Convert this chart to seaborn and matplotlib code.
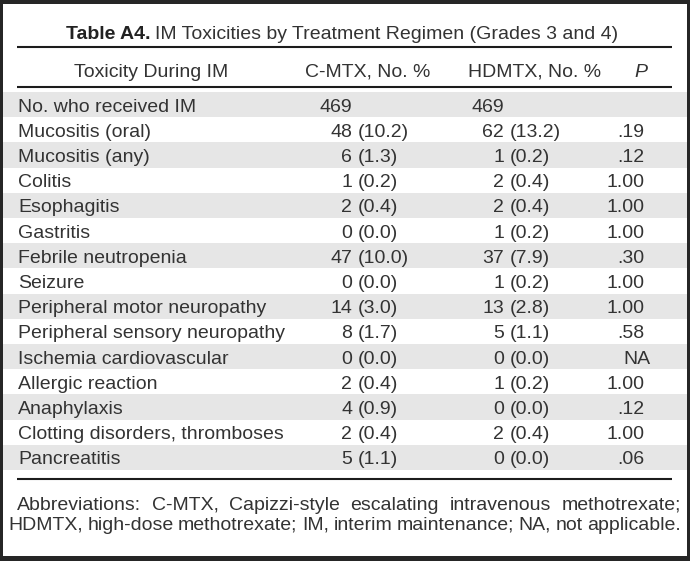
import matplotlib
matplotlib.use("Agg")
import matplotlib.pyplot as plt
import matplotlib.transforms as mtransforms
from matplotlib.colors import ListedColormap
from matplotlib.patches import Rectangle
import numpy as np
import pandas as pd
import seaborn as sns

# ---------------- data ----------------
title_bold = "Table A4."
title_rest = "IM Toxicities by Treatment Regimen (Grades 3 and 4)"
col_headers = ["Toxicity During IM", "C-MTX, No. %", "HDMTX, No. %", "P"]
toxicities = [
    "No. who received IM", "Mucositis (oral)", "Mucositis (any)", "Colitis",
    "Esophagitis", "Gastritis", "Febrile neutropenia", "Seizure",
    "Peripheral motor neuropathy", "Peripheral sensory neuropathy",
    "Ischemia cardiovascular", "Allergic reaction", "Anaphylaxis",
    "Clotting disorders, thromboses", "Pancreatitis",
]
cmtx_n = [469, 48, 6, 1, 2, 0, 47, 0, 14, 8, 0, 2, 4, 2, 5]
cmtx_pct = [None, "10.2", "1.3", "0.2", "0.4", "0.0", "10.0", "0.0", "3.0",
            "1.7", "0.0", "0.4", "0.9", "0.4", "1.1"]
hdmtx_n = [469, 62, 1, 2, 2, 1, 37, 1, 13, 5, 0, 1, 0, 2, 0]
hdmtx_pct = [None, "13.2", "0.2", "0.4", "0.4", "0.2", "7.9", "0.2", "2.8",
             "1.1", "0.0", "0.2", "0.0", "0.4", "0.0"]
p_values = ["", ".19", ".12", "1.00", "1.00", "1.00", ".30", "1.00", "1.00",
            ".58", "NA", "1.00", ".12", "1.00", ".06"]
footnote = [
    "Abbreviations: C-MTX, Capizzi-style escalating intravenous methotrexate;",
    "HDMTX, high-dose methotrexate; IM, interim maintenance; NA, not applicable.",
]

# ---------------- style ----------------
sns.set_theme(style="white")
plt.rcParams["font.family"] = ["Liberation Sans", "DejaVu Sans"]
FS = 14.0
TXT = "#333333"
RULE = "#1c1c1c"
BAND = "#e6e6e6"
W, H = 690, 561
HALF_CAP = 0.716 * FS * 100 / 72 / 2

fig = plt.figure(figsize=(W / 100, H / 100), dpi=100)
fig.patch.set_facecolor("#262626")

# background axes in pixel units (y down)
bg = fig.add_axes([0, 0, 1, 1])
bg.set_xlim(0, W)
bg.set_ylim(H, 0)
bg.axis("off")
bg.set_zorder(0)
bg.add_patch(Rectangle((3, 4), 684, 552, facecolor="white", edgecolor="none"))

# banded rows via seaborn heatmap
top_px, bot_px = 92, 470
hax = fig.add_axes([3 / W, 1 - bot_px / H, 684 / W, (bot_px - top_px) / H])
hax.set_zorder(1)
df = pd.DataFrame({"band": [(i + 1) % 2 for i in range(len(toxicities))]},
                  index=toxicities)
sns.heatmap(df, ax=hax, cmap=ListedColormap(["white", BAND]), cbar=False,
            xticklabels=False, yticklabels=False, vmin=0, vmax=1)
hax.set_xlabel("")
hax.set_ylabel("")
hax.axis("off")

renderer = fig.canvas.get_renderer()

# rules
for y in (47, 87, 479):
    bg.plot([17, 672], [y, y], color=RULE, lw=1.5, solid_capstyle="butt")

# title
t1 = bg.text(0, 32 + HALF_CAP, title_bold, fontsize=FS, fontweight="bold",
             color="#222222", va="baseline", ha="left")
t2 = bg.text(0, 32 + HALF_CAP, title_rest, fontsize=FS, color=TXT,
             va="baseline", ha="left")
sp = bg.text(0, 0, "a a", fontsize=FS)
spa = bg.text(0, 0, "aa", fontsize=FS)
space_w = sp.get_window_extent(renderer).width - spa.get_window_extent(renderer).width
sp.remove(); spa.remove()
w1 = t1.get_window_extent(renderer).width
w2 = t2.get_window_extent(renderer).width
x0 = 342 - (w1 + space_w + w2) / 2
t1.set_x(x0)
t2.set_x(x0 + w1 + space_w)

# header
hy = 70 + HALF_CAP
bg.text(151, hy, col_headers[0], fontsize=FS, color=TXT, ha="center", va="baseline")
bg.text(305, hy, col_headers[1], fontsize=FS, color=TXT, ha="left", va="baseline")
bg.text(468, hy, col_headers[2], fontsize=FS, color=TXT, ha="left", va="baseline")
bg.text(641, hy, col_headers[3], fontsize=FS, color=TXT, ha="center", va="baseline",
        style="italic")

# rows (x in pixels, y in heatmap row coordinates)
blend = mtransforms.blended_transform_factory(bg.transData, hax.transData)
tr = mtransforms.offset_copy(blend, fig=fig, y=-HALF_CAP, units="dots")
for i, name in enumerate(toxicities):
    y = i + 0.5
    kw = dict(transform=tr, fontsize=FS, color=TXT, va="baseline", clip_on=False)
    hax.text(18, y, name, ha="left", **kw)
    hax.text(352, y, str(cmtx_n[i]), ha="right", **kw)
    if cmtx_pct[i] is not None:
        hax.text(358, y, f"({cmtx_pct[i]})", ha="left", **kw)
    hax.text(504, y, str(hdmtx_n[i]), ha="right", **kw)
    if hdmtx_pct[i] is not None:
        hax.text(510, y, f"({hdmtx_pct[i]})", ha="left", **kw)
    if p_values[i] == "NA":
        hax.text(637, y, p_values[i], ha="center", **kw)
    elif p_values[i]:
        hax.text(644, y, p_values[i], ha="right", **kw)


# footnote (justified)
def justified(line, xa, xb, y):
    words = line.split(" ")
    arts = [bg.text(0, y, w, fontsize=FS, color=TXT, va="baseline", ha="left")
            for w in words]
    widths = [a.get_window_extent(renderer).width for a in arts]
    gap = (xb - xa - sum(widths)) / (len(words) - 1)
    x = xa
    for a, w in zip(arts, widths):
        a.set_x(x)
        x += w + gap


justified(footnote[0], 17, 681, 503 + HALF_CAP)
justified(footnote[1], 8, 681, 523 + HALF_CAP)

fig.savefig("out.png", dpi=100, facecolor=fig.get_facecolor())
